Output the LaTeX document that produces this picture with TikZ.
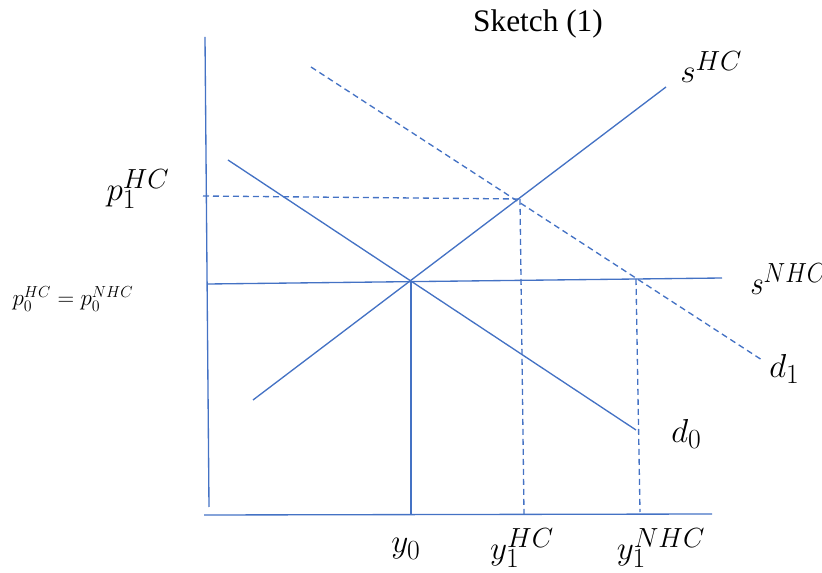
\documentclass[tikz,border=0pt]{standalone}
\usepackage{fontspec}
\setmainfont{Liberation Serif}
\newfontfamily\titlefont{Liberation Serif}
\definecolor{lineblue}{RGB}{68,114,196}
\begin{document}
\begin{tikzpicture}[x=0.75pt,y=-0.75pt,
  curve/.style={draw=lineblue,line width=1pt},
  guide/.style={draw=lineblue,line width=1pt,dash pattern=on 4.5pt off 3pt},
  lbl/.style={inner sep=0pt,font=\fontsize{24.88}{28}\selectfont}]
\useasboundingbox (0,0) rectangle (822,573);
% points
\coordinate (ytop) at (205,37);
\coordinate (ybot) at (209,507);
\coordinate (xl) at (204,515);
\coordinate (xr) at (712,514);
\coordinate (shcA) at (253,400);
\coordinate (shcB) at (666,87);
\coordinate (d0A) at (228,160);
\coordinate (d0B) at (636,430);
\coordinate (d1A) at (311,67);
\coordinate (d1B) at (762,360);
\coordinate (snA) at (208,284);
\coordinate (snB) at (722,278);
\coordinate (p1L) at (203,196);
\coordinate (E1) at (520,199);
\coordinate (E1b) at (524,514);
\coordinate (E2) at (636,279);
\coordinate (E2b) at (640,512);
\coordinate (E0) at (411,281);
\coordinate (E0b) at (411,514);
% axes
\draw[curve] (ytop) -- (ybot);
\draw[curve] (xl) -- (xr);
% curves
\draw[curve] (shcA) -- (shcB);
\draw[curve] (d0A) -- (d0B);
\draw[curve] (snA) -- (snB);
\draw[guide] (d1A) -- (d1B);
\draw[guide] (p1L) -- (E1);
\draw[guide] (E1) -- (E1b);
\draw[guide] (E2) -- (E2b);
\draw[curve] (E0) -- (E0b);
% labels
\node[inner sep=0pt,font=\titlefont\fontsize{23.5}{27}\selectfont] (title) at (538,24) {Sketch (1)};
\node[lbl,anchor=west] (lshc) at (680,67) {$s^{HC}$};
\node[lbl,anchor=west] (lsn) at (750,279) {\scalebox{0.88}[1]{$s^{NHC}$}};
\node[lbl,anchor=west] (ld1) at (769,369) {$d_1$};
\node[lbl,anchor=west] (ld0) at (671,434) {$d_0$};
\node[lbl] (lp1) at (138,189) {$p_1^{HC}$};
\node[inner sep=0pt,font=\fontsize{17.28}{20}\selectfont] (lp0) at (73,299) {$p_0^{HC}=p_0^{NHC}$};
\node[lbl] (ly0) at (406,549) {$y_0$};
\node[lbl] (ly1) at (522,548) {$y_1^{HC}$};
\node[lbl] (ly2) at (661,548) {$y_1^{NHC}$};
\end{tikzpicture}
\end{document}
